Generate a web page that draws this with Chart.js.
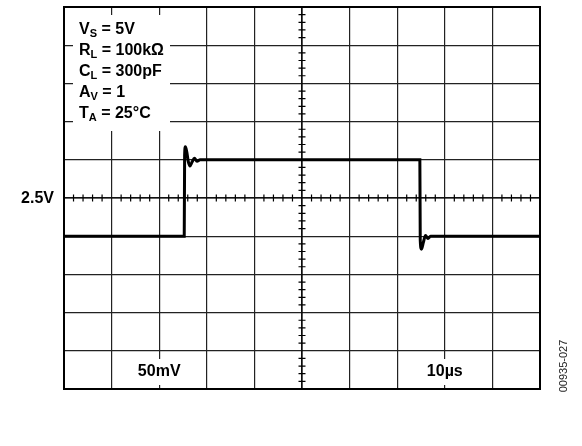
<!DOCTYPE html>
<html><head><meta charset="utf-8">
<script src="https://cdn.jsdelivr.net/npm/chart.js@4/dist/chart.umd.min.js"></script>
<style>html,body{margin:0;padding:0;background:#fff;}#wrap{width:582px;height:446px;position:relative;}</style>
</head><body><div id="wrap"><canvas id="c" width="582" height="446"></canvas></div>
<script>
// ---- data (time in µs, voltage in V) ----
const timeUs = [0, 25.26, 25.34, 25.5, 25.8, 26.1, 26.47, 26.9, 27.4, 27.94, 28.6, 74.76, 74.84, 75.1, 75.5, 75.95, 76.47, 77.0, 100];
const volts  = [2.45, 2.45, 2.555, 2.567, 2.56, 2.548, 2.542, 2.547, 2.552, 2.548, 2.55, 2.55, 2.445, 2.433, 2.442, 2.451, 2.447, 2.45, 2.45];
const xTicks = [0, 10, 20, 30, 40, 50, 60, 70, 80, 90, 100];
const yTicks = [2.25, 2.30, 2.35, 2.40, 2.45, 2.50, 2.55, 2.60, 2.65, 2.70, 2.75];
const conditionLabels = [["V", "S", " = 5V"], ["R", "L", " = 100kΩ"], ["C", "L", " = 300pF"], ["A", "V", " = 1"], ["T", "A", " = 25°C"]];
const centerLabel = "2.5V";
const voltDivLabel = "50mV";
const timeDivLabel = "10µs";
const figureId = "00935-027";

const FONT = '"Liberation Sans", Arial, sans-serif';

const scopePlugin = {
  id: 'scope',
  beforeDatasetsDraw(chart) {
    const ctx = chart.ctx, xs = chart.scales.x, ys = chart.scales.y;
    const cx = xs.getPixelForValue(50), cy = ys.getPixelForValue(2.5);
    const a = chart.chartArea;
    ctx.save();
    // center axis lines
    ctx.strokeStyle = '#000'; ctx.lineWidth = 1.2;
    ctx.beginPath();
    ctx.moveTo(a.left, cy); ctx.lineTo(a.right, cy);
    ctx.moveTo(cx, a.top); ctx.lineTo(cx, a.bottom);
    ctx.stroke();
    // minor ticks
    ctx.beginPath();
    for (let i = 0; i < xTicks.length - 1; i++) {
      for (let k = 1; k < 5; k++) {
        const px = xs.getPixelForValue(xTicks[i] + (xTicks[i+1]-xTicks[i]) * k / 5);
        ctx.moveTo(px, cy - 3.5); ctx.lineTo(px, cy + 3.5);
      }
    }
    for (let i = 0; i < yTicks.length - 1; i++) {
      for (let k = 1; k < 5; k++) {
        const py = ys.getPixelForValue(yTicks[i] + (yTicks[i+1]-yTicks[i]) * k / 5);
        ctx.moveTo(cx - 3.5, py); ctx.lineTo(cx + 3.5, py);
      }
    }
    ctx.stroke();
    // white boxes
    ctx.fillStyle = '#fff';
    ctx.fillRect(a.left + 9, a.top + 8, 97, 116);
    ctx.font = 'bold 16px ' + FONT;
    const wV = ctx.measureText(voltDivLabel).width;
    const wT = ctx.measureText(timeDivLabel).width;
    const lx = xs.getPixelForValue(20), tx = xs.getPixelForValue(80);
    const ly = a.bottom - 17;
    ctx.fillRect(lx - wV/2 - 3, ly - 13, wV + 6, 26);
    ctx.fillRect(tx - wT/2 - 3, ly - 13, wT + 6, 26);
    // labels
    ctx.fillStyle = '#000';
    ctx.textBaseline = 'middle'; ctx.textAlign = 'center';
    ctx.fillText(voltDivLabel, lx, ly);
    ctx.fillText(timeDivLabel, tx, ly);
    ctx.textAlign = 'left';
    conditionLabels.forEach((l, i) => {
      const y0 = a.top + 23 + i * 21;
      let x0 = a.left + 15;
      ctx.font = 'bold 16px ' + FONT;
      ctx.fillText(l[0], x0, y0);
      x0 += ctx.measureText(l[0]).width;
      ctx.font = 'bold 11px ' + FONT;
      ctx.fillText(l[1], x0, y0 + 4);
      x0 += ctx.measureText(l[1]).width;
      ctx.font = 'bold 16px ' + FONT;
      ctx.fillText(l[2], x0, y0);
    });
    ctx.restore();
  },
  afterDatasetsDraw(chart) {
    const ctx = chart.ctx, a = chart.chartArea, ys = chart.scales.y;
    ctx.save();
    ctx.strokeStyle = '#000'; ctx.lineWidth = 2;
    ctx.strokeRect(a.left, a.top, a.right - a.left, a.bottom - a.top);
    ctx.fillStyle = '#000';
    ctx.font = 'bold 16px ' + FONT;
    ctx.textAlign = 'right'; ctx.textBaseline = 'middle';
    ctx.fillText(centerLabel, a.left - 10, ys.getPixelForValue(2.5) + 1);
    ctx.translate(a.right + 24, a.bottom - 23);
    ctx.rotate(-Math.PI / 2);
    ctx.font = '11px ' + FONT;
    ctx.fillStyle = '#222';
    ctx.textAlign = 'center';
    ctx.fillText(figureId, 0, 0);
    ctx.restore();
  }
};

new Chart(document.getElementById('c'), {
  type: 'line',
  data: { datasets: [{
    data: timeUs.map((t, i) => ({ x: t, y: volts[i] })),
    borderColor: '#000', borderWidth: 3, pointRadius: 0,
    cubicInterpolationMode: 'monotone', fill: false
  }]},
  options: {
    responsive: false, animation: false,
    layout: { padding: { left: 64, top: 7, right: 42, bottom: 57 } },
    plugins: { legend: { display: false }, tooltip: { enabled: false } },
    scales: {
      x: { type: 'linear', min: 0, max: 100,
        afterBuildTicks: s => { s.ticks = xTicks.map(v => ({ value: v })); },
        ticks: { display: false }, border: { display: false },
        grid: { color: '#222', lineWidth: 1.2, drawTicks: false } },
      y: { type: 'linear', min: 2.25, max: 2.75,
        afterBuildTicks: s => { s.ticks = yTicks.map(v => ({ value: v })); },
        ticks: { display: false }, border: { display: false },
        grid: { color: '#222', lineWidth: 1.2, drawTicks: false } }
    }
  },
  plugins: [scopePlugin]
});
</script></body></html>
